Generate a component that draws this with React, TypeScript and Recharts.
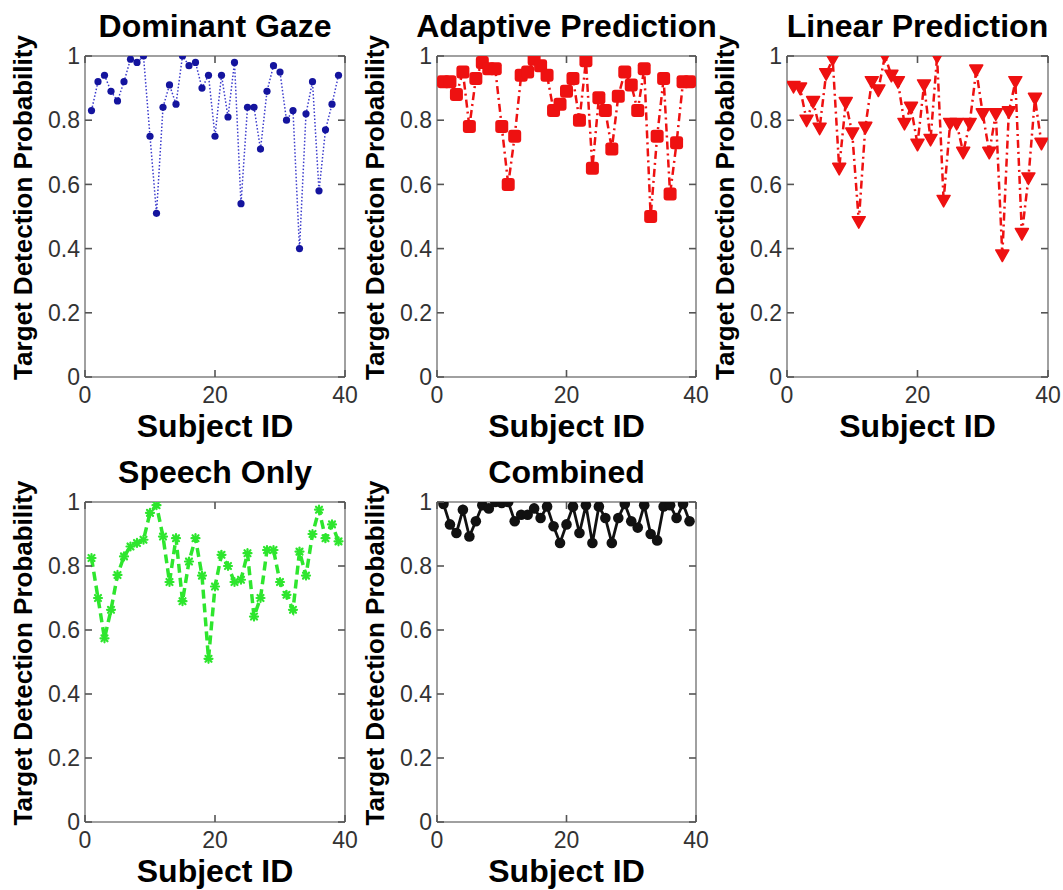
import React from 'react';
import { LineChart, Line, XAxis, YAxis } from 'recharts';

// subject ids on the x axis
const subjectIds = [
  1, 2, 3, 4, 5, 6, 7, 8, 9, 10, 11, 12, 13, 14, 15, 16, 17, 18, 19, 20,
  21, 22, 23, 24, 25, 26, 27, 28, 29, 30, 31, 32, 33, 34, 35, 36, 37, 38, 39,
];

// detection probability per subject
const dominantGaze = [
  0.83, 0.92, 0.94, 0.89, 0.86, 0.92, 0.99, 0.98, 1.0, 0.75, 0.51, 0.84, 0.91, 0.85, 1.0, 0.97, 0.98, 0.9, 0.94, 0.75,
  0.94, 0.81, 0.98, 0.54, 0.84, 0.84, 0.71, 0.89, 0.97, 0.95, 0.8, 0.83, 0.4, 0.82, 0.92, 0.58, 0.77, 0.85, 0.94,
];
const adaptivePrediction = [
  0.92, 0.92, 0.88, 0.95, 0.78, 0.93, 0.98, 0.96, 0.96, 0.78, 0.6, 0.75, 0.94, 0.95, 0.99, 0.97, 0.94, 0.83, 0.85, 0.89,
  0.93, 0.8, 0.985, 0.65, 0.87, 0.83, 0.71, 0.875, 0.95, 0.91, 0.83, 0.96, 0.5, 0.75, 0.93, 0.57, 0.73, 0.92, 0.92,
];
const linearPrediction = [
  0.905, 0.9, 0.8, 0.858, 0.775, 0.945, 0.99, 0.65, 0.855, 0.76, 0.484, 0.778, 0.92, 0.894, 1.0, 0.94, 0.92, 0.79, 0.84, 0.725,
  0.91, 0.74, 0.998, 0.55, 0.79, 0.79, 0.7, 0.79, 0.956, 0.82, 0.7, 0.82, 0.38, 0.826, 0.92, 0.447, 0.62, 0.868, 0.728,
];
const speechOnly = [
  0.825, 0.7, 0.574, 0.663, 0.772, 0.83, 0.861, 0.872, 0.882, 0.966, 0.99, 0.892, 0.75, 0.887, 0.69, 0.814, 0.887, 0.77, 0.51, 0.736,
  0.835, 0.8, 0.75, 0.757, 0.84, 0.642, 0.7, 0.85, 0.85, 0.75, 0.71, 0.663, 0.845, 0.77, 0.9, 0.976, 0.887, 0.93, 0.877,
];
const combined = [
  0.994, 0.93, 0.903, 0.976, 0.892, 0.94, 0.99, 0.98, 1.0, 0.997, 1.0, 0.94, 0.96, 0.96, 0.98, 0.95, 0.986, 0.924, 0.872, 0.93,
  0.986, 0.903, 0.99, 0.872, 0.986, 0.95, 0.872, 0.95, 0.994, 0.94, 0.92, 0.99, 0.9, 0.88, 0.986, 0.99, 0.95, 0.994, 0.94,
];

const xTicks = [0, 20, 40];
const yTicks = [0, 0.2, 0.4, 0.6, 0.8, 1];

const FONT = '"Liberation Sans", Arial, Helvetica, sans-serif';
const FRAME = '#808080';
const PAD_LEFT = 80;
const PAD_TOP = 24;
const TICK_PX = 7;
const TICK_COLOR = '#555';

const circleDot = (r: number, fill: string) => (props: any) => {
  const { cx, cy, index } = props;
  if (cx == null || cy == null) return <g key={index} />;
  return <circle key={index} cx={cx} cy={cy} r={r} fill={fill} />;
};

const squareDot = (fill: string) => (props: any) => {
  const { cx, cy, index } = props;
  if (cx == null || cy == null) return <g key={index} />;
  return <rect key={index} x={cx - 6.5} y={cy - 6.5} width={13} height={13} rx={3} fill={fill} />;
};

const triangleDot = (fill: string) => (props: any) => {
  const { cx, cy, index } = props;
  if (cx == null || cy == null) return <g key={index} />;
  const pts = `${cx - 6.5},${cy - 5} ${cx + 6.5},${cy - 5} ${cx},${cy + 6.5}`;
  return <polygon key={index} points={pts} fill={fill} stroke={fill} strokeWidth={1.5} strokeLinejoin="round" />;
};

const starDot = (fill: string) => (props: any) => {
  const { cx, cy, index } = props;
  if (cx == null || cy == null) return <g key={index} />;
  return (
    <g key={index} stroke={fill} strokeWidth={2.2} strokeLinecap="round">
      <line x1={cx - 4} y1={cy} x2={cx + 4} y2={cy} />
      <line x1={cx} y1={cy - 4} x2={cx} y2={cy + 4} />
      <line x1={cx - 3} y1={cy - 3} x2={cx + 3} y2={cy + 3} />
      <line x1={cx - 3} y1={cy + 3} x2={cx + 3} y2={cy - 3} />
    </g>
  );
};

interface PanelProps {
  left: number;
  top: number;
  w: number;
  h: number;
  values: number[];
  stroke: string;
  strokeWidth: number;
  dash?: string;
  dot: any;
}

const Panel: React.FC<PanelProps> = ({ left, top, w, h, values, stroke, strokeWidth, dash, dot }) => {
  const rows = subjectIds.map((id, i) => ({ id, value: values[i] }));
  const x0 = PAD_LEFT;
  const x1 = PAD_LEFT + w;
  const y0 = PAD_TOP;
  const y1 = PAD_TOP + h;

  // y tick: label on the left plus matlab-style inward marks on both sides
  const yTick = (props: any) => {
    const { x, y, payload, index } = props;
    return (
      <g key={index}>
        <text x={x} y={y} dy="0.36em" textAnchor="end" fontSize={23} fill="#333" fontFamily={FONT}>{String(payload.value)}</text>
        <line x1={x0} x2={x0 + TICK_PX} y1={y} y2={y} stroke={TICK_COLOR} strokeWidth={1.6} />
        <line x1={x1 - TICK_PX} x2={x1} y1={y} y2={y} stroke={TICK_COLOR} strokeWidth={1.6} />
      </g>
    );
  };
  const xTick = (props: any) => {
    const { x, y, payload, index } = props;
    return (
      <g key={index}>
        <text x={x} y={y} dy="0.72em" textAnchor="middle" fontSize={23} fill="#333" fontFamily={FONT}>{String(payload.value)}</text>
        <line x1={x} x2={x} y1={y1 - TICK_PX} y2={y1} stroke={TICK_COLOR} strokeWidth={1.6} />
        <line x1={x} x2={x} y1={y0} y2={y0 + TICK_PX} stroke={TICK_COLOR} strokeWidth={1.6} />
      </g>
    );
  };

  return (
    <div style={{ position: 'absolute', left: left - PAD_LEFT, top: top - PAD_TOP }}>
      <LineChart width={w + PAD_LEFT + 14} height={h + PAD_TOP + 40} data={rows} margin={{ top: PAD_TOP, right: 14, bottom: 0, left: 0 }}>
        <XAxis xAxisId="b" type="number" dataKey="id" domain={[0, 40]} ticks={xTicks} orientation="bottom" height={40}
          tickSize={0} tickMargin={9} tickLine={false} stroke={FRAME} axisLine={{ stroke: FRAME, strokeWidth: 1.5 }} tick={xTick} allowDataOverflow />
        <XAxis xAxisId="t" type="number" dataKey="id" domain={[0, 40]} ticks={xTicks} orientation="top" mirror
          tick={false} tickLine={false} stroke={FRAME} axisLine={{ stroke: FRAME, strokeWidth: 1.5 }} allowDataOverflow />
        <YAxis yAxisId="l" type="number" domain={[0, 1]} ticks={yTicks} width={PAD_LEFT} tickSize={0} tickMargin={5}
          tickLine={false} stroke={FRAME} axisLine={{ stroke: FRAME, strokeWidth: 1.5 }} tick={yTick} allowDataOverflow />
        <YAxis yAxisId="r" type="number" domain={[0, 1]} ticks={yTicks} orientation="right" mirror tick={false}
          tickLine={false} stroke={FRAME} axisLine={{ stroke: FRAME, strokeWidth: 1.5 }} allowDataOverflow />
        <Line xAxisId="b" yAxisId="l" type="linear" dataKey="value" stroke={stroke} strokeWidth={strokeWidth}
          strokeDasharray={dash} dot={dot} activeDot={false} isAnimationActive={false} />
      </LineChart>
    </div>
  );
};

const panels = [
  { title: 'Dominant Gaze', left: 85, top: 56, w: 260, h: 321, values: dominantGaze, stroke: '#3a3acc', strokeWidth: 1.5, dash: '1.5 2', dot: circleDot(3.6, '#14149e') },
  { title: 'Adaptive Prediction', left: 437, top: 56, w: 259, h: 321, values: adaptivePrediction, stroke: '#ee1111', strokeWidth: 2.5, dash: '8 4 2 4', dot: squareDot('#ee1111') },
  { title: 'Linear Prediction', left: 787, top: 56, w: 261, h: 321, values: linearPrediction, stroke: '#ee1111', strokeWidth: 2.5, dash: '8 4 2 4', dot: triangleDot('#ee1111') },
  { title: 'Speech Only', left: 85, top: 502, w: 260, h: 320, values: speechOnly, stroke: '#2ee62e', strokeWidth: 3.5, dash: '9 5', dot: starDot('#2ee62e') },
  { title: 'Combined', left: 437, top: 502, w: 259, h: 320, values: combined, stroke: '#111111', strokeWidth: 2.8, dash: undefined, dot: circleDot(5.3, '#111111') },
];

export default function App() {
  return (
    <div style={{ position: 'absolute', left: 0, top: 0, width: 1063, height: 890, background: '#fff', overflow: 'hidden' }}>
      {panels.map((p) => (
        <Panel key={p.title} left={p.left} top={p.top} w={p.w} h={p.h} values={p.values}
          stroke={p.stroke} strokeWidth={p.strokeWidth} dash={p.dash} dot={p.dot} />
      ))}
      <svg width={1063} height={890} style={{ position: 'absolute', left: 0, top: 0, pointerEvents: 'none' }}>
        {panels.map((p) => (
          <g key={p.title} fontFamily={FONT} fontWeight="bold" fill="#000">
            <text x={p.left + p.w / 2} y={p.top - 19} textAnchor="middle" fontSize={32}>{p.title}</text>
            <text x={p.left + p.w / 2} y={p.top + p.h + 60} textAnchor="middle" fontSize={32}>Subject ID</text>
            <text transform={`translate(${p.left - 53}, ${p.top + p.h / 2 - 9}) rotate(-90)`} textAnchor="middle" fontSize={26}>
              Target Detection Probability
            </text>
          </g>
        ))}
      </svg>
    </div>
  );
}
